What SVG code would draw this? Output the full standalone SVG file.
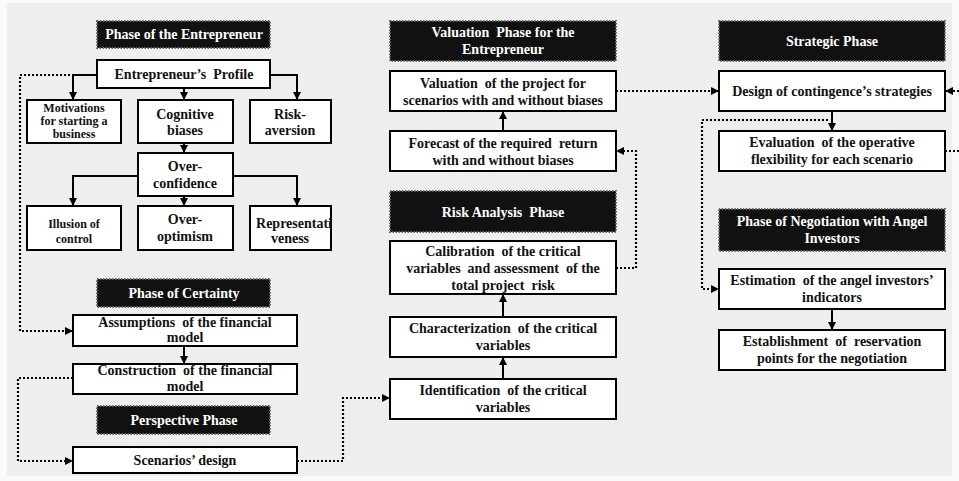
<svg xmlns="http://www.w3.org/2000/svg" width="959" height="481" viewBox="0 0 959 481">
<defs>
<marker id="ah" markerUnits="userSpaceOnUse" markerWidth="9" markerHeight="9" refX="8" refY="4" orient="auto">
<path d="M0,0 L8,4 L0,8 z" fill="#000"/>
</marker>
<style>
.box{fill:#fff;stroke:#000;stroke-width:2}
.hdr{fill:#111;stroke:#666;stroke-width:2;stroke-dasharray:1.5 1.5}
.t{font-family:"Liberation Serif","Times New Roman",serif;font-weight:bold;font-size:14px;fill:#111;text-anchor:middle}
.s{font-size:12px}
.w{fill:#fff}
.c{fill:none;stroke:#000;stroke-width:2;marker-end:url(#ah)}
.d{fill:none;stroke:#000;stroke-width:2.2;stroke-dasharray:2 2;marker-end:url(#ah)}
</style>
</defs>
<rect width="959" height="481" fill="#fafafa"/>
<rect x="7" y="3" width="945" height="473" fill="#eeeeee"/>

<g id="connectors">
<path class="c" d="M97,75 H73 V100"/>
<path class="c" d="M184,88 V100"/>
<path class="c" d="M270,75 H297 V100"/>
<path class="c" d="M184,143 V153"/>
<path class="c" d="M138,176 H73 V206"/>
<path class="c" d="M184,196 V206"/>
<path class="c" d="M233,176 H297 V206"/>
<path class="c" d="M184,346 V364"/>
<path class="c" d="M503,131 V111"/>
<path class="c" d="M503,317 V294"/>
<path class="c" d="M503,379 V357"/>
<path class="c" d="M832,111 V131"/>
<path class="c" d="M832,309 V330"/>
<path class="d" d="M70,75 H20 V331 H73"/>
<path class="d" d="M73,378 H18 V461 H73"/>
<path class="d" d="M297,461 H343 V398 H390"/>
<path class="d" d="M616,268 H636 V151 H616"/>
<path class="d" d="M616,91 H719"/>
<path class="d" d="M828,120 H702 V289 H719"/>
<path class="d" d="M945,151 H964 V91 H945"/>
</g>

<g id="hdr-entrepreneur"><rect class="hdr" x="97" y="21" width="173" height="27"/><text class="t w" x="184" y="39">Phase of the Entrepreneur</text></g>
<g id="profile"><rect class="box" x="97" y="60" width="173" height="28"/><text class="t" x="184" y="79" xml:space="preserve">Entrepreneur’s  Profile</text></g>
<g id="motivations"><rect class="box" x="27" y="100" width="94" height="43"/><text class="t s" x="74" y="112">Motivations</text><text class="t s" x="74" y="125">for starting a</text><text class="t s" x="74" y="138">business</text></g>
<g id="cognitive"><rect class="box" x="138" y="100" width="95" height="43"/><text class="t" x="185" y="119">Cognitive</text><text class="t" x="185" y="135">biases</text></g>
<g id="risk-aversion"><rect class="box" x="250" y="100" width="81" height="43"/><text class="t" x="290" y="119">Risk-</text><text class="t" x="290" y="135">aversion</text></g>
<g id="overconfidence"><rect class="box" x="138" y="153" width="95" height="43"/><text class="t" x="185" y="171">Over-</text><text class="t" x="185" y="188">confidence</text></g>
<g id="illusion"><rect class="box" x="27" y="206" width="94" height="44"/><text class="t s" x="74" y="228">Illusion of</text><text class="t s" x="74" y="243">control</text></g>
<g id="overoptimism"><rect class="box" x="138" y="206" width="95" height="44"/><text class="t" x="185" y="224">Over-</text><text class="t" x="185" y="241">optimism</text></g>
<g id="representativeness"><rect class="box" x="250" y="206" width="81" height="44"/><text class="t" x="294" y="228">Representati</text><text class="t" x="290" y="243">veness</text></g>

<g id="hdr-certainty"><rect class="hdr" x="97" y="279" width="173" height="28"/><text class="t w" x="184" y="298">Phase of Certainty</text></g>
<g id="assumptions"><rect class="box" x="73" y="315" width="224" height="31"/><text class="t" x="185" y="327" xml:space="preserve">Assumptions  of the financial</text><text class="t" x="185" y="342">model</text></g>
<g id="construction"><rect class="box" x="73" y="364" width="224" height="30"/><text class="t" x="185" y="375" xml:space="preserve">Construction  of the financial</text><text class="t" x="185" y="391">model</text></g>
<g id="hdr-perspective"><rect class="hdr" x="97" y="406" width="173" height="28"/><text class="t w" x="184" y="425">Perspective Phase</text></g>
<g id="scenarios"><rect class="box" x="73" y="447" width="224" height="26"/><text class="t" x="185" y="465">Scenarios’ design</text></g>

<g id="hdr-valuation"><rect class="hdr" x="390" y="21" width="226" height="40"/><text class="t w" x="503" y="37" xml:space="preserve">Valuation  Phase for the</text><text class="t w" x="503" y="54">Entrepreneur</text></g>
<g id="valuation"><rect class="box" x="390" y="71" width="226" height="40"/><text class="t" x="503" y="88" xml:space="preserve">Valuation  of the project for</text><text class="t" x="503" y="105">scenarios with and without biases</text></g>
<g id="forecast"><rect class="box" x="390" y="131" width="226" height="40"/><text class="t" x="503" y="148" xml:space="preserve">Forecast of the required  return</text><text class="t" x="503" y="165">with and without biases</text></g>
<g id="hdr-risk"><rect class="hdr" x="390" y="191" width="226" height="41"/><text class="t w" x="503" y="217" xml:space="preserve">Risk Analysis  Phase</text></g>
<g id="calibration"><rect class="box" x="390" y="241" width="226" height="53"/><text class="t" x="503" y="256" xml:space="preserve">Calibration  of the critical</text><text class="t" x="503" y="273" xml:space="preserve">variables  and assessment  of the</text><text class="t" x="503" y="290" xml:space="preserve">total project  risk</text></g>
<g id="characterization"><rect class="box" x="390" y="317" width="226" height="40"/><text class="t" x="503" y="333" xml:space="preserve">Characterization  of the critical</text><text class="t" x="503" y="350">variables</text></g>
<g id="identification"><rect class="box" x="390" y="379" width="226" height="40"/><text class="t" x="503" y="395" xml:space="preserve">Identification  of the critical</text><text class="t" x="503" y="412">variables</text></g>

<g id="hdr-strategic"><rect class="hdr" x="719" y="21" width="226" height="40"/><text class="t w" x="832" y="46">Strategic Phase</text></g>
<g id="design"><rect class="box" x="719" y="71" width="226" height="40"/><text class="t" x="832" y="96">Design of contingence’s strategies</text></g>
<g id="evaluation"><rect class="box" x="719" y="131" width="226" height="40"/><text class="t" x="832" y="147" xml:space="preserve">Evaluation  of the operative</text><text class="t" x="832" y="164">flexibility for each scenario</text></g>
<g id="hdr-negotiation"><rect class="hdr" x="719" y="209" width="226" height="42"/><text class="t w" x="832" y="226">Phase of Negotiation with Angel</text><text class="t w" x="832" y="243">Investors</text></g>
<g id="estimation"><rect class="box" x="719" y="269" width="226" height="40"/><text class="t" x="832" y="285" xml:space="preserve">Estimation  of the angel investors’</text><text class="t" x="832" y="302">indicators</text></g>
<g id="establishment"><rect class="box" x="719" y="330" width="226" height="40"/><text class="t" x="832" y="346" xml:space="preserve">Establishment  of  reservation</text><text class="t" x="832" y="363">points for the negotiation</text></g>
</svg>
